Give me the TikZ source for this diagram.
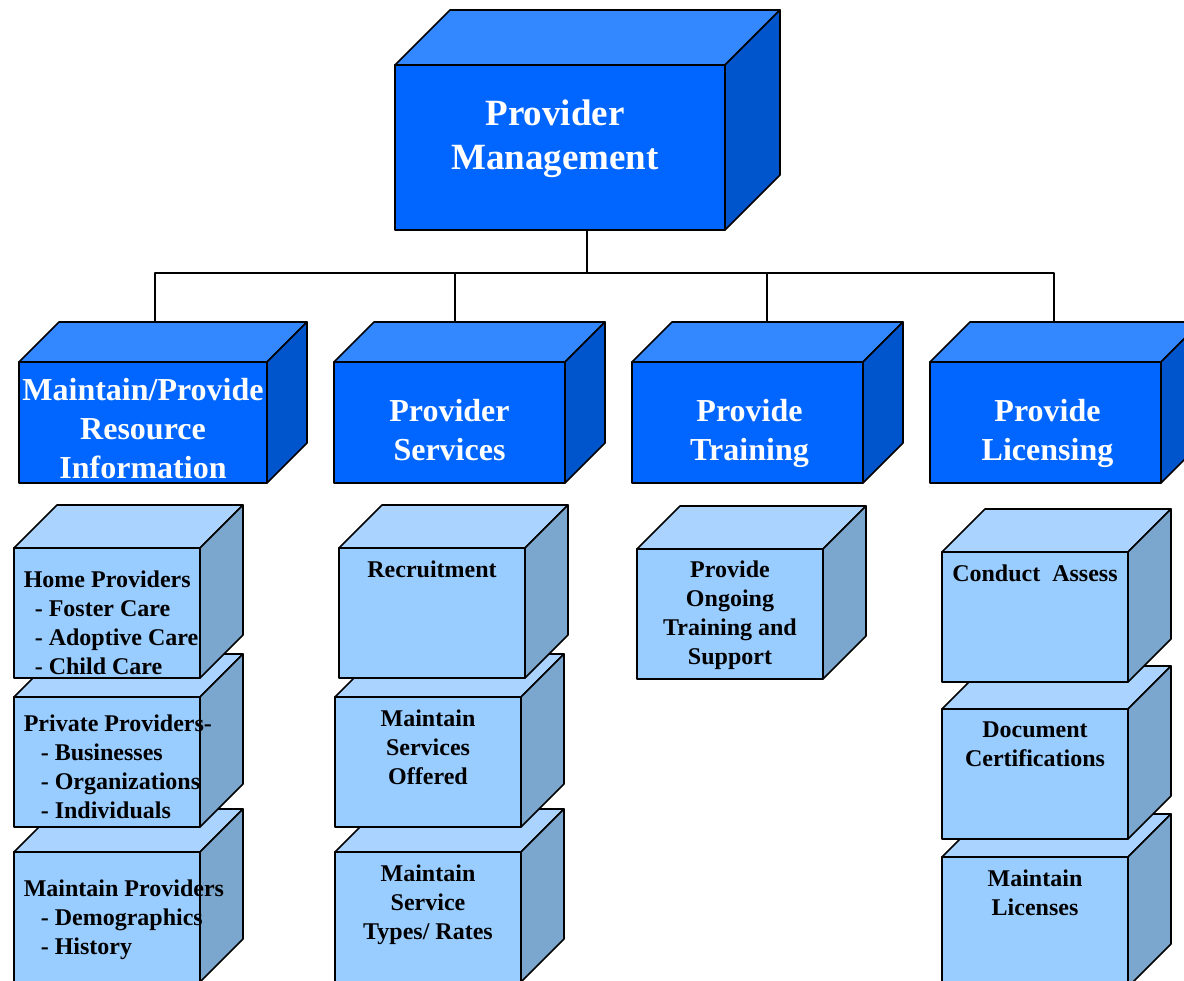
\documentclass[tikz,border=0pt]{standalone}
\usepackage{fontspec}
\setmainfont{Liberation Serif}
\usetikzlibrary{chains,positioning}
\definecolor{topfront}{HTML}{0066FF}
\definecolor{toplid}{HTML}{3388FF}
\definecolor{topside}{HTML}{0055CC}
\definecolor{subfront}{HTML}{99CCFF}
\definecolor{sublid}{HTML}{AAD4FF}
\definecolor{subside}{HTML}{7BA6CE}
% lid and side of a box drawn on the front node #1, depth #2
\newcommand\cubefaces[4]{%
  \filldraw[fill=#3] (#1.north west) -- ++(#2,-#2) -- ([shift={(#2,-#2)}]#1.north east) -- (#1.north east) -- cycle;
  \filldraw[fill=#4] (#1.north east) -- ++(#2,-#2) -- ([shift={(#2,-#2)}]#1.south east) -- (#1.south east) -- cycle;
}

\begin{document}
\begin{tikzpicture}[
x=1pt, y=-1pt,
line width=1.6pt, line join=round,
    face/.style = {draw, rectangle, inner sep=0pt, outer sep=0pt},% front of every box
   chief/.style = {face, fill=topfront},
 chieftext/.style = {inner sep=0pt, text=white, align=center,
                   font=\fontsize{37}{44}\selectfont\bfseries},
     mid/.style = {face, fill=topfront, minimum width=231pt, minimum height=121pt},
 midtext/.style = {inner sep=0pt, text=white, align=center,
                   font=\fontsize{32}{39}\selectfont\bfseries},
     sub/.style = {face, fill=subfront, minimum width=186pt, minimum height=130pt},
 subtext/.style = {inner sep=0pt, font=\fontsize{24}{29}\selectfont\bfseries},
    wire/.style = {line width=1.5pt},
                        ]
\useasboundingbox (0,0) rectangle (1184,981);
\clip (0,0) rectangle (1184,981);

% top box
\node[chief, minimum width=330pt, minimum height=165pt, anchor=north west] (pm) at (395,65) {};
\cubefaces{pm}{55}{toplid}{topside}
\node[chieftext] (pm-t) at ([shift={(-5,-9)}]pm.center) {Provider\\Management};

% second row
\begin{scope}[start chain=L going right, node distance=67pt]
\node[mid, on chain, minimum width=248pt, anchor=west] (mp) at (19,422.5) {};
\node[mid, on chain] (ps) {};
\node[mid, on chain] (tr) {};
\node[mid, on chain] (lic) {};
\end{scope}
\foreach \n in {mp,ps,tr,lic}
    {\cubefaces{\n}{40}{toplid}{topside}}
\node[midtext] (mp-t) at ([shift={(0,6)}]mp.center) {Maintain/Provide\\Resource\\Information};
\node[midtext] (ps-t) at ([shift={(0,8)}]ps.center) {Provider\\Services};
\node[midtext] (tr-t) at ([shift={(2,11)}]tr.center) {Provide\\Training};
\node[midtext] (lic-t) at ([shift={(2,11)}]lic.center) {Provide\\Licensing};

% connectors
\coordinate (bus) at (0,273);
\coordinate (pm-out) at ([xshift=27pt]pm.south);
\coordinate (mp-in) at ([shift={(136,-40)}]mp.north west);
\coordinate (ps-in) at ([shift={(121,-40)}]ps.north west);
\coordinate (tr-in) at ([shift={(135,-40)}]tr.north west);
\coordinate (lic-in) at ([shift={(124,-40)}]lic.north west);
\draw[wire] (pm-out) -- (pm-out |- bus);
\draw[wire] (mp-in) |- (bus -| lic-in) -- (lic-in);
\draw[wire] (ps-in) -- (ps-in |- bus);
\draw[wire] (tr-in) -- (tr-in |- bus);

% column 1, bottom box first
\node[sub, anchor=north west] (maint) at (14,852) {};
\cubefaces{maint}{43}{sublid}{subside}
\node[subtext, align=left, below right=27pt and 9pt of maint.north west] (maint-t)
    {Maintain Providers\\\hspace*{17pt}- Demographics\\\hspace*{17pt}- History};
\node[sub, anchor=north west] (priv) at (14,697) {};
\cubefaces{priv}{43}{sublid}{subside}
\node[subtext, align=left, below right=17pt and 9pt of priv.north west] (priv-t)
    {Private Providers-\\\hspace*{17pt}- Businesses\\\hspace*{17pt}- Organizations\\\hspace*{17pt}- Individuals};
\node[sub, anchor=north west] (home) at (14,548) {};
\cubefaces{home}{43}{sublid}{subside}
\node[subtext, align=left, below right=22pt and 9pt of home.north west] (home-t)
    {Home Providers\\\hspace*{11pt}- Foster Care\\\hspace*{11pt}- Adoptive Care\\\hspace*{11pt}- Child Care};

% column 2
\node[sub, anchor=north west] (rates) at (335,852) {};
\cubefaces{rates}{43}{sublid}{subside}
\node[subtext, align=center, below=12pt of rates.north] (rates-t) {Maintain\\Service\\Types/ Rates};
\node[sub, anchor=north west] (offer) at (335,697) {};
\cubefaces{offer}{43}{sublid}{subside}
\node[subtext, align=center, below=12pt of offer.north] (offer-t) {Maintain\\Services\\Offered};
\node[sub, anchor=north west] (recr) at (339,548) {};
\cubefaces{recr}{43}{sublid}{subside}
\node[subtext, align=center, below=12pt of recr.north] (recr-t) {Recruitment};

% column 3
\node[sub, anchor=north west] (ongo) at (637,549) {};
\cubefaces{ongo}{43}{sublid}{subside}
\node[subtext, align=center, below=11pt of ongo.north] (ongo-t) {Provide\\Ongoing\\Training and\\Support};

% column 4
\node[sub, anchor=north west] (licn) at (942,857) {};
\cubefaces{licn}{43}{sublid}{subside}
\node[subtext, align=center, below=12pt of licn.north] (licn-t) {Maintain\\Licenses};
\node[sub, anchor=north west] (cert) at (942,709) {};
\cubefaces{cert}{43}{sublid}{subside}
\node[subtext, align=center, below=12pt of cert.north] (cert-t) {Document\\Certifications};
\node[sub, anchor=north west] (assess) at (942,552) {};
\cubefaces{assess}{43}{sublid}{subside}
\node[subtext, align=center, below=12pt of assess.north] (assess-t) {Conduct\ \ Assess};
\end{tikzpicture}
\end{document}
